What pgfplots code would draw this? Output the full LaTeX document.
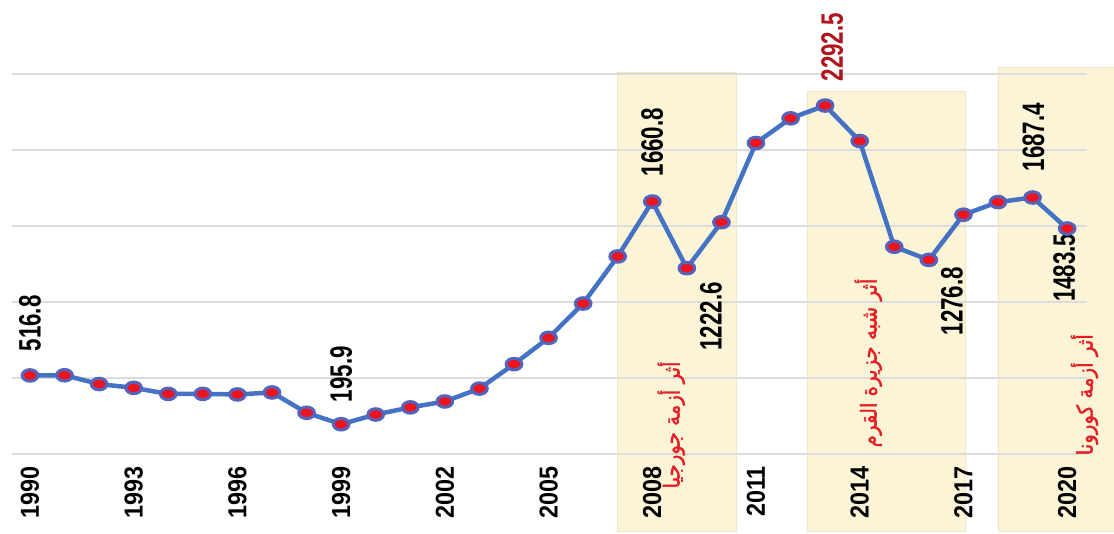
\documentclass[border=0pt]{standalone}
\usepackage{pgfplots}
\pgfplotsset{compat=1.18}
\usepackage{fontspec}
\setmainfont{Liberation Sans}
\newfontfamily\yearfont{Liberation Sans}[FakeStretch=0.9]
\newfontfamily\lblfont{Liberation Sans}[FakeStretch=0.72]
\newfontfamily\arabicfont[Script=Arabic, FakeBold=1.6, FakeStretch=0.9]{DejaVu Sans}
\TeXXeTstate=1
\definecolor{lineblue}{RGB}{68,114,196}
\definecolor{mkborder}{RGB}{84,100,188}
\definecolor{mkred}{RGB}{236,20,30}
\definecolor{boxfill}{RGB}{252,244,214}
\definecolor{boxdraw}{RGB}{238,230,196}
\definecolor{gridgray}{RGB}{220,220,220}
\definecolor{arabred}{RGB}{228,30,36}
\definecolor{darkred}{RGB}{176,20,28}
\pgfplotstableread{
year gdp
1990 516.8
1991 517.96
1992 460.2
1993 435.1
1994 395.1
1995 395.5
1996 391.7
1997 404.9
1998 271.0
1999 195.9
2000 259.7
2001 306.6
2002 345.5
2003 430.3
2004 591.0
2005 764.0
2006 989.9
2007 1299.7
2008 1660.8
2009 1222.6
2010 1524.9
2011 2045.9
2012 2208.3
2013 2292.5
2014 2059.2
2015 1363.5
2016 1276.8
2017 1574.2
2018 1657.3
2019 1687.4
2020 1483.5
}\gdpdata
\begin{document}
\begin{tikzpicture}
\begin{axis}[
  name=ax,
  scale only axis, width=1075pt, height=380pt,
  xmin=1989.48, xmax=2020.575, ymin=0, ymax=2500,
  axis x line*=bottom, axis y line*=left,
  axis line style={draw=none},
  tick style={draw=none},
  ytick={0,500,...,2500}, yticklabels={},
  ymajorgrids, grid style={gridgray, line width=2pt},
  xtick={1990,1993,...,2020},
  xticklabels={1990,1993,1996,1999,2002,2005,2008,2011,2014,2017,2020},
  xticklabel style={rotate=90, anchor=east, inner sep=0pt, xshift=-12pt,
    font=\yearfont\bfseries\fontsize{26}{26}\selectfont},
  clip=false, set layers,
]
\begin{pgfonlayer}{axis background}
\filldraw[fill=boxfill, draw=boxdraw, line width=1pt] (axis cs:2006.98,-513) rectangle (axis cs:2010.45,2513);
\filldraw[fill=boxfill, draw=boxdraw, line width=1pt] (axis cs:2012.5,-513) rectangle (axis cs:2017.05,2388);
\filldraw[fill=boxfill, draw=boxdraw, line width=1pt] (axis cs:2018.0,-513) rectangle (axis cs:2022.5,2546);
\end{pgfonlayer}
\addplot[lineblue, line width=4.5pt, mark=*, mark size=5.8pt,
  mark options={xscale=1.35, fill=mkred, draw=mkborder, line width=3pt}]
  table[x=year, y=gdp] {\gdpdata};
\tikzset{lbl/.style={rotate=90, inner sep=0pt, font=\lblfont\bfseries\fontsize{31}{31}\selectfont}}
\node[lbl, anchor=west] at ([yshift=24pt]axis cs:1990,516.8) {516.8};
\node[lbl, anchor=west] at ([yshift=22pt]axis cs:1999,195.9) {195.9};
\node[lbl, anchor=west] at ([yshift=25pt]axis cs:2008,1660.8) {1660.8};
\node[lbl, anchor=east] at ([xshift=24pt,yshift=-14pt]axis cs:2009,1222.6) {1222.6};
\node[lbl, anchor=west, text=darkred] at ([xshift=7pt,yshift=24pt]axis cs:2013,2292.5) {2292.5};
\node[lbl, anchor=east] at ([xshift=23pt,yshift=-7pt]axis cs:2016,1276.8) {1276.8};
\node[lbl, anchor=west] at ([xshift=1pt,yshift=26pt]axis cs:2019,1687.4) {1687.4};
\node[lbl, anchor=east] at ([xshift=-3pt,yshift=-5pt]axis cs:2020,1483.5) {1483.5};
\tikzset{alb/.style={rotate=90, inner sep=0pt, text=arabred, font=\arabicfont\fontsize{22}{22}\selectfont}}
\node[alb] at (axis cs:2008.55,191) {\beginR أثر أزمة جورجيا\endR};
\node[alb] at (axis cs:2014.25,599) {\beginR أثر شبه جزيرة القرم\endR};
\node[alb] at (axis cs:2020.5,390) {\beginR أثر أزمة كورونا\endR};
\end{axis}
\pgfresetboundingbox
\useasboundingbox ([shift={(-12pt,-80pt)}]ax.south west) rectangle ([shift={(1102pt,454pt)}]ax.south west);
\end{tikzpicture}
\end{document}
